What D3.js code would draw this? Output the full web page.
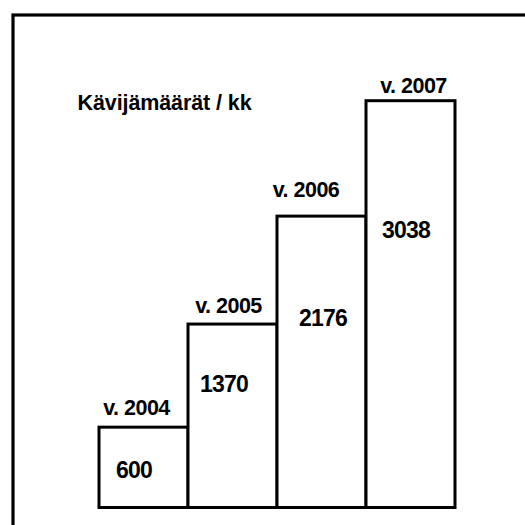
<!DOCTYPE html>
<html>
<head>
<meta charset="utf-8">
<script src="https://cdn.jsdelivr.net/npm/d3@7"></script>
<style>
  html, body { margin: 0; padding: 0; background: #fff; }
  svg { display: block; }
  text { font-family: "Liberation Sans", Arial, sans-serif; font-weight: bold; fill: #000; }
</style>
</head>
<body>
<svg id="chart" width="525" height="525"></svg>
<script>
// ---- data ----
const categories = ["v. 2004", "v. 2005", "v. 2006", "v. 2007"];
const values = [600, 1370, 2176, 3038];
const title = "Kävijämäärät / kk";

// ---- layout (hand-placed label nudges, px) ----
const labelNudgeX = [-7, -4, -15.5, 3];
const labelLift = [12.5, 11.5, 19.5, 7.7];
const valueInsetX = [17, 12, 22, 16];
const valueDrop = [50.5, 67.5, 109.5, 137.5];

const svg = d3.select("#chart");
const W = 525, H = 525;

svg.append("rect").attr("width", W).attr("height", H).attr("fill", "#fff");

// frame (extends beyond the picture on right/bottom)
svg.append("rect")
  .attr("x", 13).attr("y", 15)
  .attr("width", 600).attr("height", 600)
  .attr("fill", "none").attr("stroke", "#000").attr("stroke-width", 3.2);

const x = d3.scaleBand().domain(categories).range([99, 455]).padding(0);
const y = d3.scaleLinear().domain([0, 3038]).range([507.5, 100.7]);

const data = categories.map((c, i) => ({ c, v: values[i], i }));

svg.selectAll("rect.bar").data(data).join("rect")
  .attr("class", "bar")
  .attr("x", d => x(d.c))
  .attr("y", d => y(d.v))
  .attr("width", x.bandwidth())
  .attr("height", d => y(0) - y(d.v))
  .attr("fill", "#fff")
  .attr("stroke", "#000")
  .attr("stroke-width", 3);

svg.selectAll("text.cat").data(data).join("text")
  .attr("class", "cat")
  .attr("x", d => x(d.c) + x.bandwidth() / 2 + labelNudgeX[d.i])
  .attr("y", d => y(d.v) - labelLift[d.i])
  .attr("text-anchor", "middle")
  .attr("font-size", 21.5)
  .attr("letter-spacing", -0.5)
  .text(d => d.c);

svg.selectAll("text.val").data(data).join("text")
  .attr("class", "val")
  .attr("x", d => x(d.c) + valueInsetX[d.i])
  .attr("y", d => y(d.v) + valueDrop[d.i])
  .attr("font-size", 23)
  .attr("letter-spacing", -0.8)
  .text(d => d.v);

svg.append("text")
  .attr("x", 77.5).attr("y", 110)
  .attr("font-size", 21.5)
  .attr("letter-spacing", -0.1)
  .text(title);
</script>
</body>
</html>
